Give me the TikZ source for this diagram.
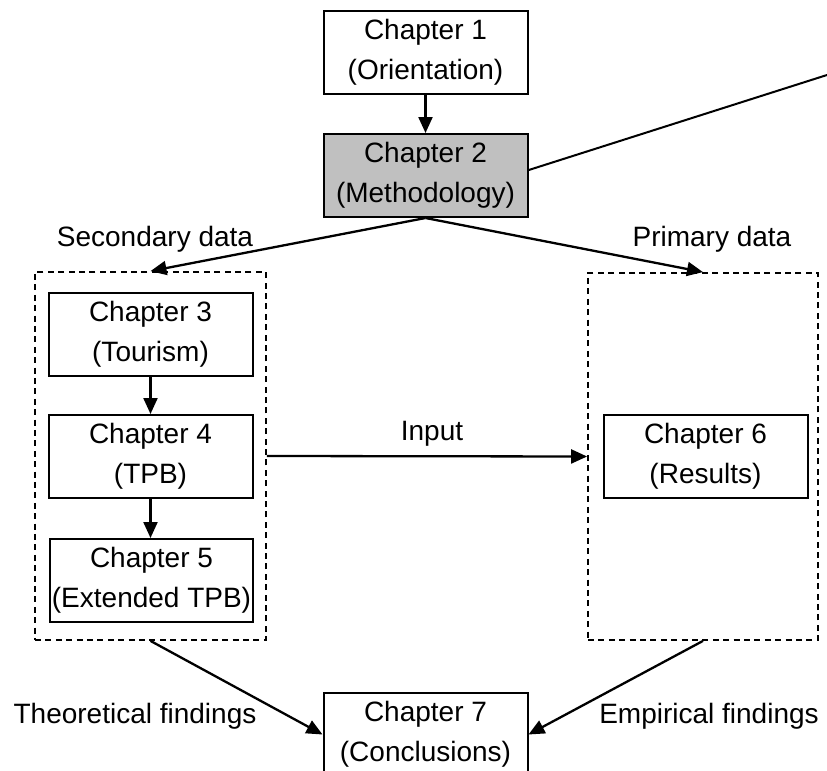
\documentclass[tikz,border=0pt]{standalone}
\usepackage{fontspec}
\setmainfont{Liberation Sans}
\usetikzlibrary{arrows.meta}
\definecolor{methodgray}{HTML}{C0C0C0}
\begin{document}
\begin{tikzpicture}[x=0.5pt,y=-0.5pt,
  chapter/.style={draw, line width=1pt, minimum width=102pt, minimum height=41.5pt,
    inner sep=0pt, align=center, font=\fontsize{14}{20}\selectfont},
  dashbox/.style={draw, dash pattern=on 3pt off 2.2pt, line width=0.9pt, inner sep=0pt},
  txt/.style={font=\fontsize{14}{20}\selectfont, inner sep=0pt},
  arr/.style={line width=1.15pt, -{Triangle[length=8pt,width=7pt]}},
]
\clip (0,0) rectangle (827,771);
\path[use as bounding box] (0,0) rectangle (827,771);

% chapter boxes
\node[chapter] (c1) at (425.5,52.5) {Chapter 1\\(Orientation)};
\node[chapter, fill=methodgray] (c2) at (425.5,175.5) {Chapter 2\\(Methodology)};
\node[chapter] (c3) at (150.5,334.5) {Chapter 3\\(Tourism)};
\node[chapter] (c4) at (150.5,456.5) {Chapter 4\\(TPB)};
\node[chapter, minimum width=101.5pt] (c5) at (151.5,580.5) {Chapter 5\\(Extended TPB)};
\node[chapter] (c6) at (705.5,456.5) {Chapter 6\\(Results)};
\node[chapter] (c7) at (425.5,734.5) {Chapter 7\\(Conclusions)};

% data groups
\node[dashbox, minimum width=115.5pt, minimum height=184pt] (grpL) at (150.5,456) {};
\node[dashbox, minimum width=115pt, minimum height=183.5pt] (grpR) at (703,456.5) {};

% labels
\node[txt] (secl) at (155,239) {Secondary data};
\node[txt] (priml) at (712,239) {Primary data};
\node[txt] (inl) at (432,434) {Input};
\node[txt] (theol) at (135,716) {Theoretical findings};
\node[txt] (empl) at (709,716) {Empirical findings};

% connectors
\coordinate (outer) at (827,75);
\draw[arr] (c1.south) -- (c2.north);
\draw[line width=1pt] (c2.3) -- (outer);
\draw[arr] (c2.south) -- (grpL.north);
\draw[arr] (c2.south) -- (grpR.north);
\draw[arr] (c3.south) -- (c4.north);
\draw[arr] (c4.south) -- (c4.south |- c5.north);
\draw[arr] (grpL.east) -- (grpR.west);
\draw[arr] (grpL.south) -- (c7.west);
\draw[arr] (grpR.south) -- (c7.east);
\end{tikzpicture}
\end{document}
